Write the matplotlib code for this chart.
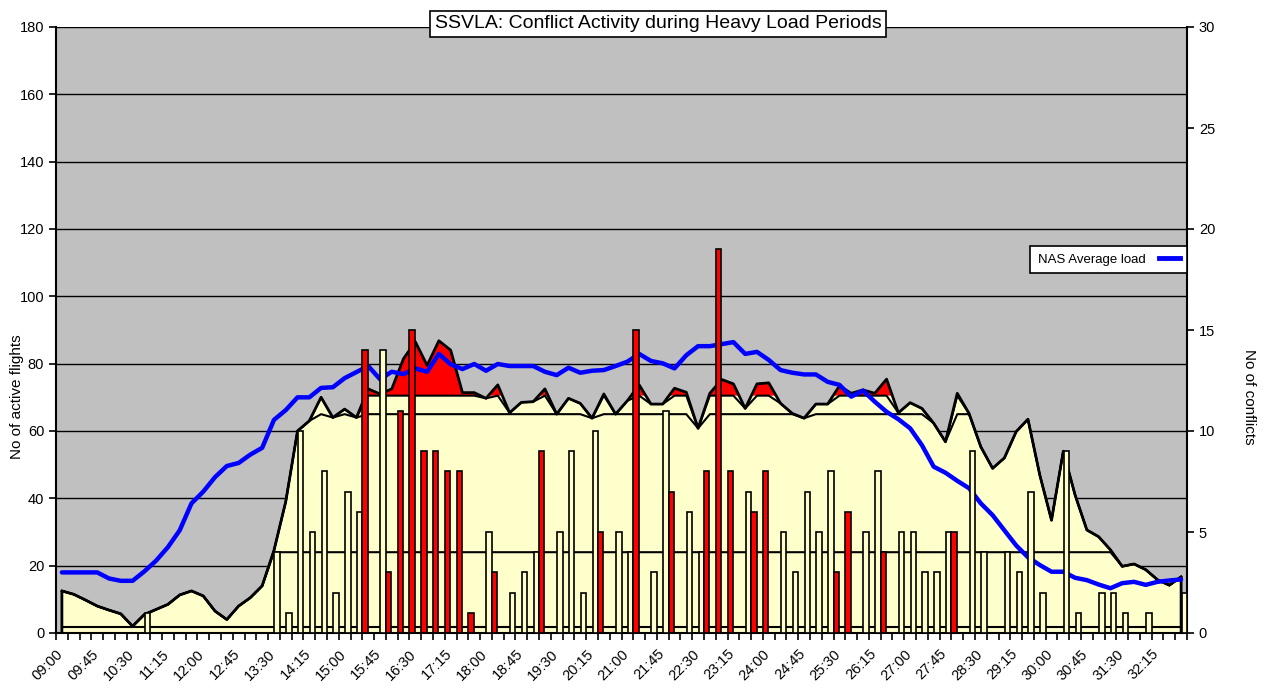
import matplotlib
matplotlib.use('Agg')
import matplotlib.pyplot as plt
import numpy as np
from matplotlib.lines import Line2D

plt.rcParams['font.family'] = ['Liberation Sans', 'DejaVu Sans']

time_labels = ["09:00", "09:45", "10:30", "11:15", "12:00", "12:45", "13:30", "14:15",
               "15:00", "15:45", "16:30", "17:15", "18:00", "18:45", "19:30", "20:15",
               "21:00", "21:45", "22:30", "23:15", "24:00", "24:45", "25:30", "26:15",
               "27:00", "27:45", "28:30", "29:15", "30:00", "30:45", "31:30", "32:15"]

active_flights = [12.5, 11.5, 9.8, 8, 6.8, 5.7, 2, 5.5, 7, 8.5,
                  11.3, 12.5, 11, 6.5, 4, 8, 10.5, 14, 24.5, 39,
                  60, 63, 70, 64, 66.5, 64, 72.5, 71, 72.5, 81.5,
                  86.5, 79.5, 86.8, 84, 71.4, 71.4, 69.7, 73.7, 65.4, 68.5,
                  68.7, 72.5, 65, 69.7, 68.2, 63.8, 71, 65, 69, 73.7,
                  68, 68, 72.7, 71.5, 60.8, 71.2, 75.3, 74, 66.7, 74,
                  74.3, 68.2, 65.2, 63.8, 68, 68, 73.4, 71.2, 72.2, 71.2,
                  75.4, 65.4, 68.4, 66.7, 62.3, 56.8, 71.2, 65.2, 55.3, 48.9,
                  52, 59.8, 63.5, 47, 33.5, 54, 41, 30.6, 28.6, 24.7,
                  19.8, 20.5, 18.8, 15.8, 14.2, 16.7]

nas_average_load = [18, 18, 18, 18, 16.2, 15.5, 15.5, 18.3, 21.5, 25.5,
                    30.5, 38.5, 42, 46.3, 49.6, 50.5, 53, 55, 63.3, 66.2,
                    70, 70, 72.8, 73, 75.7, 77.5, 79.3, 75.4, 77.6, 76.9,
                    78.6, 77.6, 82.9, 79.8, 78.4, 79.9, 77.9, 79.9, 79.3, 79.3,
                    79.3, 77.6, 76.6, 78.8, 77.3, 77.9, 78.1, 79.3, 80.6, 82.9,
                    80.8, 80.1, 78.6, 82.5, 85.2, 85.2, 85.8, 86.4, 82.9, 83.5,
                    81.1, 78.1, 77.3, 76.8, 76.8, 74.6, 73.7, 70.2, 72, 68.7,
                    65.7, 63.5, 60.8, 55.8, 49.4, 47.6, 45.2, 43, 38.5, 35,
                    30.5, 26, 22.5, 20.2, 18.2, 18.2, 16.4, 15.7, 14.4, 13.3,
                    14.8, 15.2, 14.3, 15.2, 15.6, 15.9]

# conflicts per tick boundary (0..96)
conflicts_normal = [0, 0, 0, 0, 0, 0, 0, 0, 1, 0,
                    0, 0, 0, 0, 0, 0, 0, 0, 0, 4,
                    1, 10, 5, 8, 2, 7, 6, 0, 14, 0,
                    0, 0, 0, 0, 0, 0, 0, 5, 0, 2,
                    3, 4, 0, 5, 9, 2, 10, 0, 5, 4,
                    0, 3, 11, 0, 6, 4, 0, 0, 0, 7,
                    0, 0, 5, 3, 7, 5, 8, 0, 0, 5,
                    8, 0, 5, 5, 3, 3, 5, 0, 9, 4,
                    0, 4, 3, 7, 2, 0, 9, 1, 0, 2,
                    2, 1, 0, 1, 0, 0, 2]

conflicts_heavy = [0, 0, 0, 0, 0, 0, 0, 0, 0, 0,
                   0, 0, 0, 0, 0, 0, 0, 0, 0, 0,
                   0, 0, 0, 0, 0, 0, 14, 0, 3, 11,
                   15, 9, 9, 8, 8, 1, 0, 3, 0, 0,
                   0, 9, 0, 0, 0, 0, 5, 0, 0, 15,
                   0, 0, 7, 0, 0, 8, 19, 8, 0, 6,
                   8, 0, 0, 0, 0, 0, 3, 6, 0, 0,
                   4, 0, 0, 0, 0, 0, 5, 0, 0, 0,
                   0, 0, 0, 0, 0, 0, 0, 0, 0, 0,
                   0, 0, 0, 0, 0, 0, 0]

band_levels = [1.7, 24, 65, 70.5]
heavy_level = 70.5

W, H = 1267, 690
fig = plt.figure(figsize=(W / 100, H / 100), dpi=100)
ax = fig.add_axes([56 / W, 57 / H, 1131 / W, 606 / H])
ax.set_facecolor('#C0C0C0')

n = len(active_flights)
x = np.arange(n) + 0.5
f = np.array(active_flights, dtype=float)

ax.set_xlim(0, n)
ax.set_ylim(0, 180)
ax.set_yticks(np.arange(0, 181, 20))
ax.yaxis.grid(True, color='black', lw=1.0)
ax.set_axisbelow(True)

ax.fill_between(x, 0, f, color='#FFFFCC', lw=0, zorder=2)
ax.fill_between(x, heavy_level, f, where=f > heavy_level, interpolate=True,
                color='#FF0000', lw=0, zorder=2)
for lvl in band_levels:
    ax.plot(x, np.minimum(f, lvl), color='black', lw=1.5, zorder=3)
ax.plot(np.r_[x[0], x, x[-1]], np.r_[0, f, 0], color='black', lw=2, zorder=3)
ax.plot(x, nas_average_load, color='#0000FF', lw=3.2, zorder=4,
        solid_joinstyle='round', solid_capstyle='round')

ax.set_xticks(np.arange(0, 96, 3))
ax.set_xticklabels(time_labels, rotation=45, ha='right', rotation_mode='anchor', fontsize=10.5)
ax.set_xticks(np.arange(0, 97), minor=True)
ax.tick_params(axis='x', which='both', direction='out', length=5, width=1.2, pad=5)
ax.tick_params(axis='y', direction='out', length=5, width=1.2, labelsize=10.5)
for s in ['left', 'bottom']:
    ax.spines[s].set_linewidth(1.5)
ax.spines['top'].set_visible(False)
ax.spines['right'].set_visible(False)

ax2 = ax.twinx()
ax2.set_ylim(0, 30)
ax2.set_yticks(np.arange(0, 31, 5))
ax2.tick_params(axis='y', direction='out', length=5, width=1.2, labelsize=10.5)
ax2.spines['right'].set_linewidth(1.5)
ax2.spines['top'].set_visible(False)
ax2.spines['left'].set_visible(False)
ax2.spines['bottom'].set_visible(False)

bw = 0.46
ticks = np.arange(len(conflicts_normal))
cn = np.array(conflicts_normal, dtype=float)
ch = np.array(conflicts_heavy, dtype=float)
mn = cn > 0
mh = ch > 0
ax2.bar(ticks[mn] - bw / 2, cn[mn], width=bw, color='#FFFFCC', edgecolor='black', lw=1.2, zorder=5)
ax2.bar(ticks[mh] + bw / 2, ch[mh], width=bw, color='#FF0000', edgecolor='black', lw=1.2, zorder=5)
ax2.set_xlim(0, n)

ax.set_ylabel('No of active flights', fontsize=11)
ax.yaxis.set_label_coords(-0.028, 0.39)
ax2.set_ylabel('No of conflicts', fontsize=11, rotation=270, va='bottom')
ax2.yaxis.set_label_coords(1.049, 0.39)

leg = ax2.legend([Line2D([0], [0], color='#0000FF', lw=3.5)], ['NAS Average load'],
                 loc='center right', bbox_to_anchor=(1.0, 0.616), markerfirst=False,
                 frameon=True, fancybox=False, edgecolor='black', fontsize=9.5,
                 borderpad=0.55, handlelength=1.6, handletextpad=1.0, framealpha=1,
                 borderaxespad=0)
leg.get_frame().set_linewidth(1.2)
leg.set_zorder(20)

fig.text(658 / W, 1 - 24 / H, 'SSVLA: Conflict Activity during Heavy Load Periods',
         ha='center', va='center', fontsize=14,
         bbox=dict(boxstyle='square,pad=0.22', fc='white', ec='black', lw=1.2), zorder=30)

fig.savefig('out.png', dpi=100, facecolor='white')
